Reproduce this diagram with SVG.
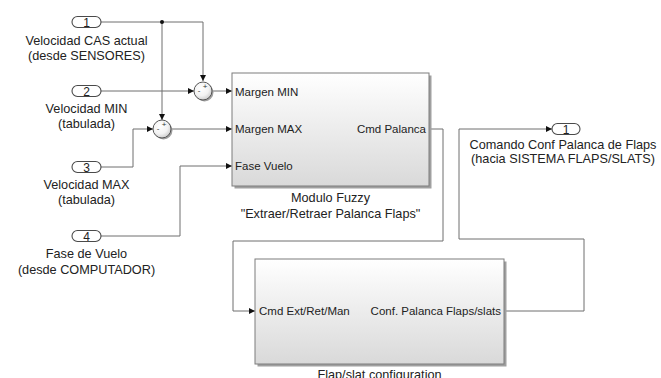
<svg xmlns="http://www.w3.org/2000/svg" width="661" height="378" viewBox="0 0 661 378">
<defs>
  <linearGradient id="gBlk" x1="0" y1="0" x2="0" y2="1">
    <stop offset="0" stop-color="#ffffff"/>
    <stop offset="1" stop-color="#d9d9d9"/>
  </linearGradient>
  <radialGradient id="gSum" cx="0.4" cy="0.35" r="0.7">
    <stop offset="0" stop-color="#ffffff"/>
    <stop offset="0.6" stop-color="#f2f2f2"/>
    <stop offset="1" stop-color="#c8c8c8"/>
  </radialGradient>
  <marker id="arr" viewBox="0 0 6 6" refX="6" refY="3" markerWidth="6" markerHeight="6" markerUnits="userSpaceOnUse" orient="auto">
    <path d="M0,0 L6,3 L0,6 z" fill="#111"/>
  </marker>
  <style>
    .wire{fill:none;stroke:#6e6e6e;stroke-width:1}
    .arr{marker-end:url(#arr)}
    .blk{fill:url(#gBlk);stroke:#7c7c7c;stroke-width:1}
    .shadow{fill:#a0a0a0}
    .port{fill:#fff;stroke:#4a4a4a;stroke-width:1.1}
    .sum{fill:url(#gSum);stroke:#555;stroke-width:1}
    text{font-family:"Liberation Sans",Arial,sans-serif;fill:#222}
    .lbl{font-size:12.7px;text-anchor:middle}
    .pl{font-size:11.5px}
    .num{font-size:12px;text-anchor:middle}
    .sg{font-size:8px;text-anchor:middle;fill:#333}
  </style>
</defs>
<rect width="661" height="378" fill="#ffffff"/>

<g id="connectors">
  <path class="wire arr" d="M101,22 H203 V81"/>
  <path class="wire arr" d="M162,22 V120"/>
  <circle cx="162" cy="22" r="2" fill="#111"/>
  <path class="wire arr" d="M101,91 H194"/>
  <path class="wire arr" d="M212,91 H232"/>
  <path class="wire arr" d="M101,167 H133 V129 H153"/>
  <path class="wire arr" d="M171,129 H232"/>
  <path class="wire arr" d="M101,236 H180 V166 H232"/>
  <path class="wire arr" d="M429,129 H443 V241 H233 V311 H255"/>
  <path class="wire arr" d="M504,311 H584 V239 H459 V129 H552"/>
</g>

<g id="in1">
  <rect class="port" x="72" y="16.5" width="29" height="11" rx="5.5"/>
  <text class="num" x="86.5" y="26.5">1</text>
  <text class="lbl" x="86.5" y="44.5">Velocidad CAS actual</text>
  <text class="lbl" x="86.5" y="59.5">(desde SENSORES)</text>
</g>
<g id="in2">
  <rect class="port" x="72" y="85.5" width="29" height="11" rx="5.5"/>
  <text class="num" x="86.5" y="95.5">2</text>
  <text class="lbl" x="86.5" y="113">Velocidad MIN</text>
  <text class="lbl" x="86.5" y="128">(tabulada)</text>
</g>
<g id="in3">
  <rect class="port" x="72" y="161.5" width="29" height="11" rx="5.5"/>
  <text class="num" x="86.5" y="171.5">3</text>
  <text class="lbl" x="86.5" y="188.5">Velocidad MAX</text>
  <text class="lbl" x="86.5" y="203.5">(tabulada)</text>
</g>
<g id="in4">
  <rect class="port" x="72" y="230.5" width="29" height="11" rx="5.5"/>
  <text class="num" x="86.5" y="240.5">4</text>
  <text class="lbl" x="86.5" y="257.5">Fase de Vuelo</text>
  <text class="lbl" x="86.5" y="273.5">(desde COMPUTADOR)</text>
</g>

<g id="sum1">
  <circle cx="204.5" cy="92.5" r="9" class="shadow"/>
  <circle cx="203" cy="91" r="9" class="sum"/>
  <text class="sg" x="199" y="93">-</text>
  <text class="sg" x="205" y="89">+</text>
</g>
<g id="sum2">
  <circle cx="163.5" cy="130.5" r="9" class="shadow"/>
  <circle cx="162" cy="129" r="9" class="sum"/>
  <text class="sg" x="158" y="131">-</text>
  <text class="sg" x="164" y="127">+</text>
</g>

<g id="fuzzy">
  <rect x="234.5" y="75.5" width="197" height="113" class="shadow"/>
  <rect x="232" y="73" width="197" height="113" class="blk"/>
  <text class="pl" x="235" y="95.5">Margen MIN</text>
  <text class="pl" x="235" y="133">Margen MAX</text>
  <text class="pl" x="235" y="170">Fase Vuelo</text>
  <text class="pl" x="426" y="133" text-anchor="end">Cmd Palanca</text>
  <text class="lbl" x="330.5" y="201.5">Modulo Fuzzy</text>
  <text class="lbl" x="330.5" y="217.5">"Extraer/Retraer Palanca Flaps"</text>
</g>

<g id="flapslat">
  <rect x="257.5" y="261.5" width="249" height="105" class="shadow"/>
  <rect x="255" y="259" width="249" height="105" class="blk"/>
  <text class="pl" x="259" y="315">Cmd Ext/Ret/Man</text>
  <text class="pl" x="501" y="315" text-anchor="end">Conf. Palanca Flaps/slats</text>
  <text class="lbl" x="379.5" y="378.5">Flap/slat configuration</text>
</g>

<g id="out1">
  <rect class="port" x="552" y="123.5" width="28" height="11" rx="5.5"/>
  <text class="num" x="566" y="133.5">1</text>
  <text class="lbl" x="563" y="149">Comando Conf Palanca de Flaps</text>
  <text class="lbl" x="563" y="163">(hacia SISTEMA FLAPS/SLATS)</text>
</g>
</svg>
